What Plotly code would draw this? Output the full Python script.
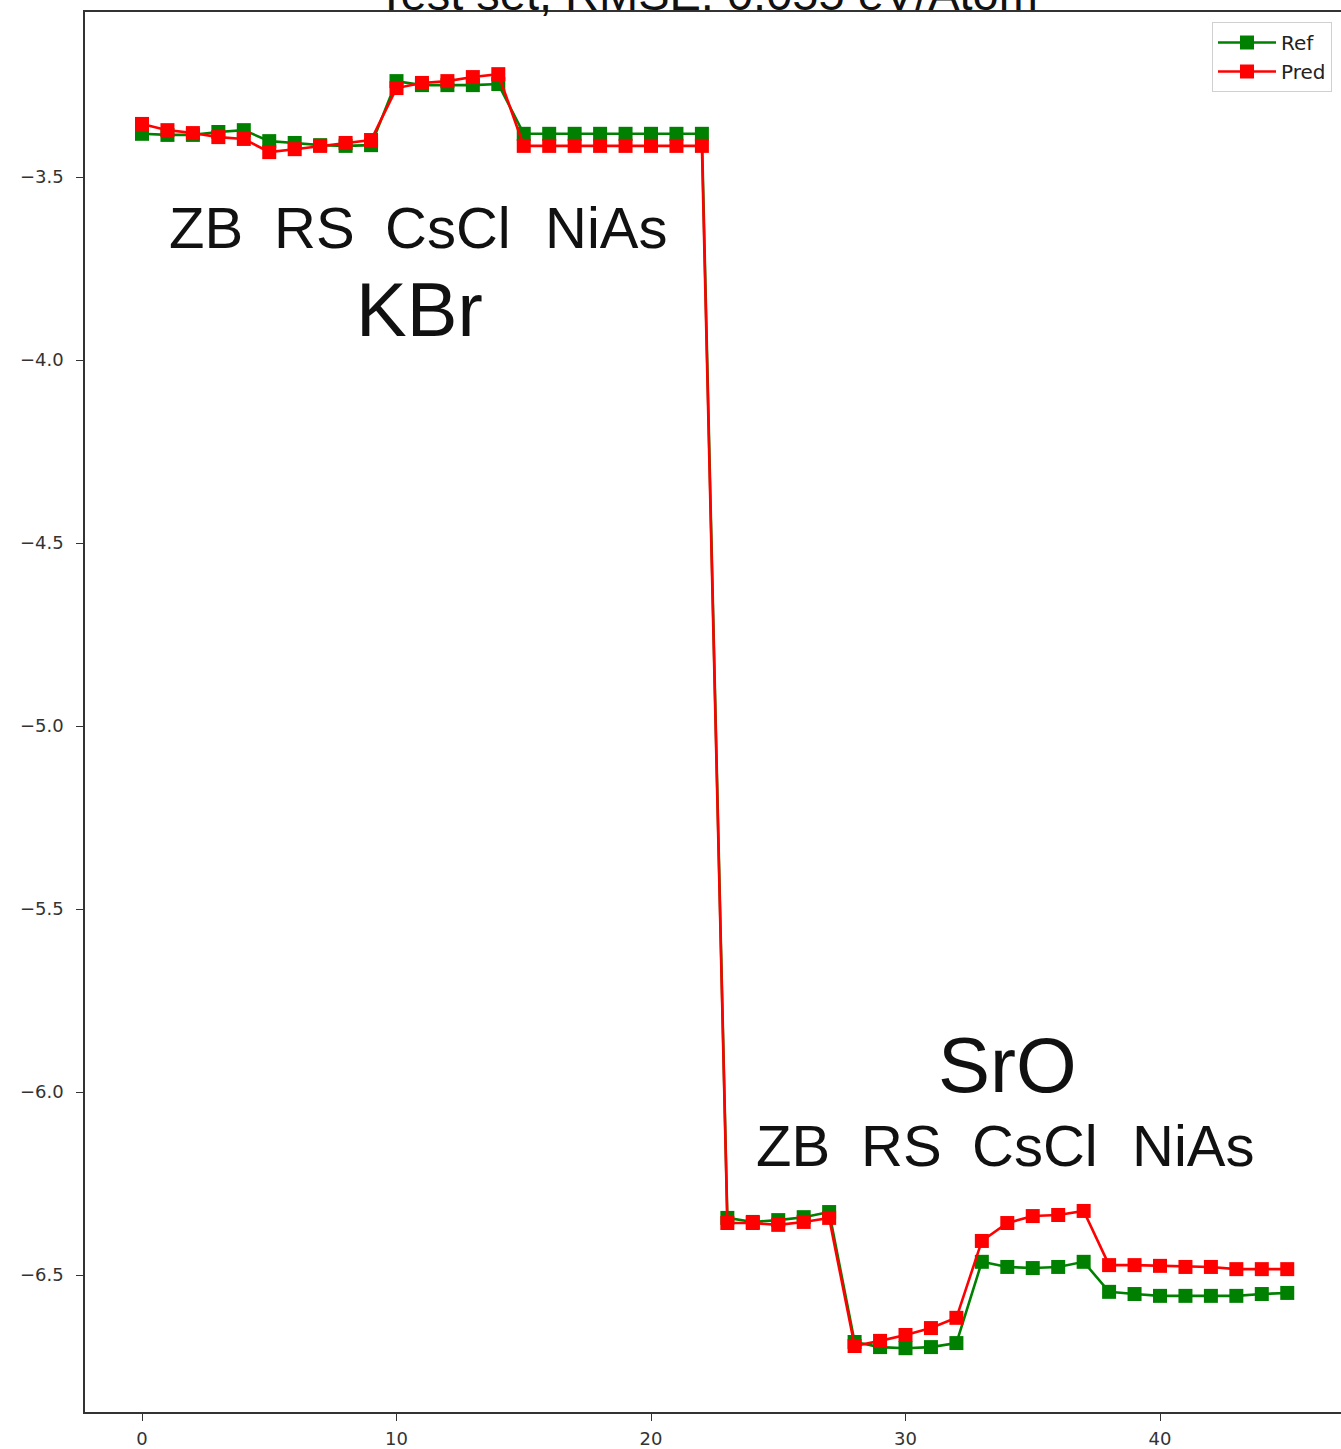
import plotly.graph_objects as go

x_index = list(range(46))

ref_values = [
    -3.382, -3.385, -3.385, -3.377, -3.372, -3.402, -3.407, -3.413, -3.415, -3.413,
    -3.238, -3.249, -3.249, -3.249, -3.246,
    -3.382, -3.382, -3.382, -3.382, -3.382, -3.382, -3.382, -3.382,
    -6.344, -6.355, -6.350, -6.342, -6.328,
    -6.683, -6.697, -6.700, -6.697, -6.686,
    -6.464, -6.478, -6.481, -6.478, -6.464,
    -6.546, -6.552, -6.557, -6.557, -6.557, -6.557, -6.552, -6.549,
]

pred_values = [
    -3.355, -3.372, -3.380, -3.391, -3.396, -3.432, -3.424, -3.415, -3.407, -3.399,
    -3.257, -3.243, -3.238, -3.227, -3.219,
    -3.415, -3.415, -3.415, -3.415, -3.415, -3.415, -3.415, -3.415,
    -6.358, -6.358, -6.363, -6.355, -6.344,
    -6.694, -6.680, -6.664, -6.645, -6.617,
    -6.407, -6.358, -6.339, -6.336, -6.325,
    -6.473, -6.473, -6.475, -6.478, -6.478, -6.484, -6.484, -6.484,
]

title_text = "Test set, RMSE: 0.055 eV/Atom"
structure_labels = ["ZB", "RS", "CsCl", "NiAs"]
compounds = ["KBr", "SrO"]

x_ticks = [0, 10, 20, 30, 40]
y_ticks = [-3.5, -4.0, -4.5, -5.0, -5.5, -6.0, -6.5]
y_tick_text = ["\u22123.5", "\u22124.0", "\u22124.5", "\u22125.0", "\u22125.5", "\u22126.0", "\u22126.5"]

W, H = 1341, 1449
L, R, T, B = 85, 0, 12, 37

fig = go.Figure()
fig.add_trace(go.Scatter(
    x=x_index, y=ref_values, name="Ref", mode="lines+markers", legendgroup="ref",
    line=dict(color="#008000", width=2.6),
    marker=dict(symbol="square", size=14, color="#008000"),
))
fig.add_trace(go.Scatter(
    x=x_index, y=pred_values, name="Pred", mode="lines+markers", legendgroup="pred",
    line=dict(color="#ff0000", width=2.6),
    marker=dict(symbol="square", size=14, color="#ff0000"),
))

def px_to_paper(px, py):
    return (px - L) / (W - L - R), 1 - (py - T) / (H - T - B)

label_font = dict(family="Liberation Sans, Arial, sans-serif", color="#111111")
annotations = []

# KBr row
for word, cx in zip(structure_labels, [206, 314, 448, 606]):
    ax, ay = px_to_paper(cx, 227)
    annotations.append(dict(text=word, x=ax, y=ay, xref="paper", yref="paper",
                            showarrow=False, xanchor="center", yanchor="middle",
                            font=dict(size=58, **label_font)))
ax, ay = px_to_paper(419, 309)
annotations.append(dict(text=compounds[0], x=ax, y=ay, xref="paper", yref="paper",
                        showarrow=False, xanchor="center", yanchor="middle",
                        font=dict(size=76, **label_font)))
# SrO
ax, ay = px_to_paper(1007, 1065)
annotations.append(dict(text=compounds[1], x=ax, y=ay, xref="paper", yref="paper",
                        showarrow=False, xanchor="center", yanchor="middle",
                        font=dict(size=78, **label_font)))
for word, cx in zip(structure_labels, [793, 901, 1035, 1193]):
    ax, ay = px_to_paper(cx, 1145)
    annotations.append(dict(text=word, x=ax, y=ay, xref="paper", yref="paper",
                            showarrow=False, xanchor="center", yanchor="middle",
                            font=dict(size=58, **label_font)))

# title, mostly cut off at the top of the image (as in the reference)
tx, ty = px_to_paper(707, -6)
annotations.append(dict(text=title_text, x=tx, y=ty, xref="paper", yref="paper",
                        showarrow=False, xanchor="center", yanchor="middle",
                        font=dict(size=47, **label_font)))

px_per_x = 25.45
x_lo = (L - 142) / px_per_x
x_hi = (W - R - 142) / px_per_x
px_per_y = 366.0
y_hi = -3.5 + (177 - T) / px_per_y
y_lo = -3.5 - (H - B - 177) / px_per_y

tick_font = dict(family="DejaVu Sans, sans-serif", size=18, color="#333333")

fig.update_layout(
    width=W, height=H,
    margin=dict(l=L, r=R, t=T, b=B, pad=0),
    plot_bgcolor="white", paper_bgcolor="white",
    showlegend=True,
    legend=dict(
        x=(1212 - L) / (W - L - R), y=1 - (22 - T) / (H - T - B),
        xanchor="left", yanchor="top",
        bgcolor="rgba(255,255,255,0.8)", bordercolor="#d0d0d0", borderwidth=1,
        font=dict(family="DejaVu Sans, sans-serif", size=20, color="#222222"),
        tracegroupgap=6, traceorder="normal", itemwidth=58,
    ),
    annotations=annotations,
    xaxis=dict(
        range=[x_lo, x_hi], tickmode="array", tickvals=x_ticks,
        ticks="outside", ticklen=7, tickwidth=1.2, tickcolor="#333333",
        showgrid=False, zeroline=False, ticklabelstandoff=3,
        showline=True, linecolor="#333333", linewidth=1.5, mirror=True,
        tickfont=tick_font,
    ),
    yaxis=dict(
        range=[y_lo, y_hi], tickmode="array", tickvals=y_ticks, ticktext=y_tick_text,
        ticks="outside", ticklen=7, tickwidth=1.2, tickcolor="#333333",
        showgrid=False, zeroline=False, ticklabelstandoff=9,
        showline=True, linecolor="#333333", linewidth=1.5, mirror=False,
        tickfont=tick_font,
    ),
)

fig.write_html("out.html", config={"displayModeBar": False},
               post_script="document.body.style.margin='0px';document.body.style.overflow='hidden';")
